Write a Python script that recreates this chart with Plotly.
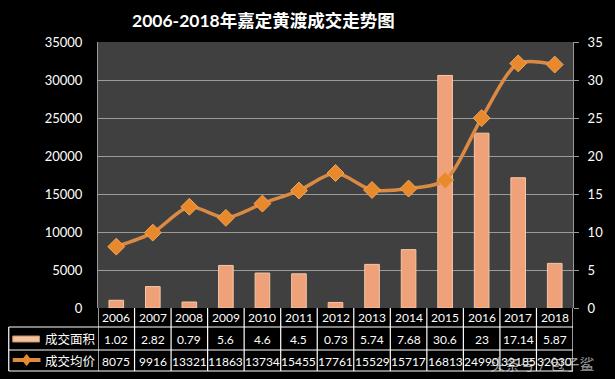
import plotly.graph_objects as go

years = ["2006", "2007", "2008", "2009", "2010", "2011", "2012",
         "2013", "2014", "2015", "2016", "2017", "2018"]
area = [1.02, 2.82, 0.79, 5.6, 4.6, 4.5, 0.73, 5.74, 7.68, 30.6, 23, 17.14, 5.87]
price = [8075, 9916, 13321, 11863, 13734, 15455, 17761, 15529, 15717, 16813,
         24990, 32185, 32030]
area_labels = ["1.02", "2.82", "0.79", "5.6", "4.6", "4.5", "0.73", "5.74",
               "7.68", "30.6", "23", "17.14", "5.87"]
series_names = ["成交面积", "成交均价"]
title_text = "2006-2018年嘉定黄渡成交走势图"

W, H = 615, 379
L, R, T, B = 98, 577, 42, 308
PW, PH = R - L, B - T


def px_x(px):
    return (px - L) / PW


def px_y(py):
    return (B - py) / PH


FONT = "Lato, Noto Sans CJK SC, sans-serif"
BAR_C = "#EFA27A"
LINE_C = "#DB8A45"
MARK_C = "#E8892C"

fig = go.Figure()
fig.add_trace(go.Bar(
    x=years, y=area, name=series_names[0], yaxis="y", width=0.4,
    marker=dict(color=BAR_C, line=dict(color="#F6C7A6", width=1)),
))
fig.add_trace(go.Scatter(
    x=years, y=price, name=series_names[1], yaxis="y2", mode="lines+markers",
    line=dict(color=LINE_C, width=3.5, shape="spline", smoothing=0.8),
    marker=dict(symbol="diamond", size=13, color=MARK_C,
                line=dict(color="#F2A55A", width=1)),
))

shapes = []
ann = []
line_style = dict(color="white", width=1.2)
# table vertical lines (category boundaries)
for i in range(len(years) + 1):
    shapes.append(dict(type="line", xref="x", yref="paper",
                       x0=i - 0.5, x1=i - 0.5, y0=px_y(308), y1=px_y(371),
                       line=line_style))
# left header column
shapes.append(dict(type="line", xref="paper", yref="paper",
                   x0=px_x(8), x1=px_x(8), y0=px_y(327), y1=px_y(371),
                   line=line_style))
for yy in (327, 350, 371):
    shapes.append(dict(type="line", xref="paper", yref="paper",
                       x0=px_x(8), x1=px_x(L), y0=px_y(yy), y1=px_y(yy),
                       line=line_style))
    shapes.append(dict(type="line", xref="x", yref="paper",
                       x0=-0.5, x1=len(years) - 0.5, y0=px_y(yy), y1=px_y(yy),
                       line=line_style))
# legend glyphs
shapes.append(dict(type="rect", xref="paper", yref="paper",
                   x0=px_x(12), x1=px_x(39), y0=px_y(342), y1=px_y(336),
                   fillcolor="#F3C39E", line=dict(color="#C98A62", width=1)))
shapes.append(dict(type="line", xref="paper", yref="paper",
                   x0=px_x(12), x1=px_x(40), y0=px_y(360), y1=px_y(360),
                   line=dict(color=LINE_C, width=4)))
shapes.append(dict(type="path", xref="paper", yref="paper",
                   path=(f"M {px_x(26)},{px_y(354)} L {px_x(31)},{px_y(360)} "
                         f"L {px_x(26)},{px_y(366)} L {px_x(21)},{px_y(360)} Z"),
                   fillcolor=MARK_C, line=dict(color=MARK_C, width=0)))

tfont = dict(color="white", size=12, family=FONT)
for i, yv in enumerate(years):
    ann.append(dict(x=i, y=px_y(317.5), xref="x", yref="paper", text=yv,
                    xanchor="center", yanchor="middle",
                    showarrow=False, font=tfont))
    ann.append(dict(x=i, y=px_y(339), xref="x", yref="paper",
                    xanchor="center", yanchor="middle",
                    text=area_labels[i], showarrow=False, font=tfont))
    ann.append(dict(x=i, y=px_y(361), xref="x", yref="paper",
                    xanchor="center", yanchor="middle",
                    text=str(price[i]), showarrow=False, font=tfont))
for name, yy in zip(series_names, (339, 361)):
    ann.append(dict(x=px_x(43), y=px_y(yy), xref="paper", yref="paper",
                    text=name, xanchor="left", yanchor="middle",
                    showarrow=False,
                    font=dict(color="white", size=12.5, family=FONT)))
ann.append(dict(x=px_x(265), y=px_y(20), xref="paper", yref="paper",
                text=f"<b>{title_text}</b>", showarrow=False,
                xanchor="center", yanchor="middle",
                font=dict(color="white", size=17.5, family=FONT)))
ann.append(dict(x=px_x(600), y=px_y(364), xref="paper", yref="paper",
                text="头条号 / 包子鲨", xanchor="right", yanchor="middle",
                showarrow=False,
                font=dict(color="rgba(225,225,225,0.7)", size=15,
                          family=FONT)))

fig.update_layout(
    width=W, height=H,
    margin=dict(l=L, r=W - R, t=T, b=H - B, pad=0),
    paper_bgcolor="black", plot_bgcolor="#404040",
    showlegend=False,
    xaxis=dict(type="category", range=[-0.5, len(years) - 0.5],
               showticklabels=False, showgrid=False, zeroline=False,
               showline=False, ticks=""),
    yaxis=dict(side="right", range=[0, 35], dtick=5, showgrid=True,
               gridcolor="#9a9a9a", gridwidth=1, zeroline=False,
               ticks="outside", ticklen=5, tickcolor="#9a9a9a",
               ticklabelstandoff=6,
               showline=True, linecolor="#9a9a9a", linewidth=1,
               tickfont=dict(color="white", size=13, family=FONT)),
    yaxis2=dict(side="left", overlaying="y", range=[0, 35000], dtick=5000,
                tickformat="d",
                showgrid=False, zeroline=False, ticks="",
                ticklabelstandoff=12,
                showline=True, linecolor="#9a9a9a", linewidth=1,
                tickfont=dict(color="white", size=13, family=FONT)),
    shapes=shapes, annotations=ann,
    bargap=0.6,
)

fig.write_html("out.html",
               config={"displayModeBar": False},
               post_script="document.body.style.margin='0';"
                           "document.body.style.background='black';")
